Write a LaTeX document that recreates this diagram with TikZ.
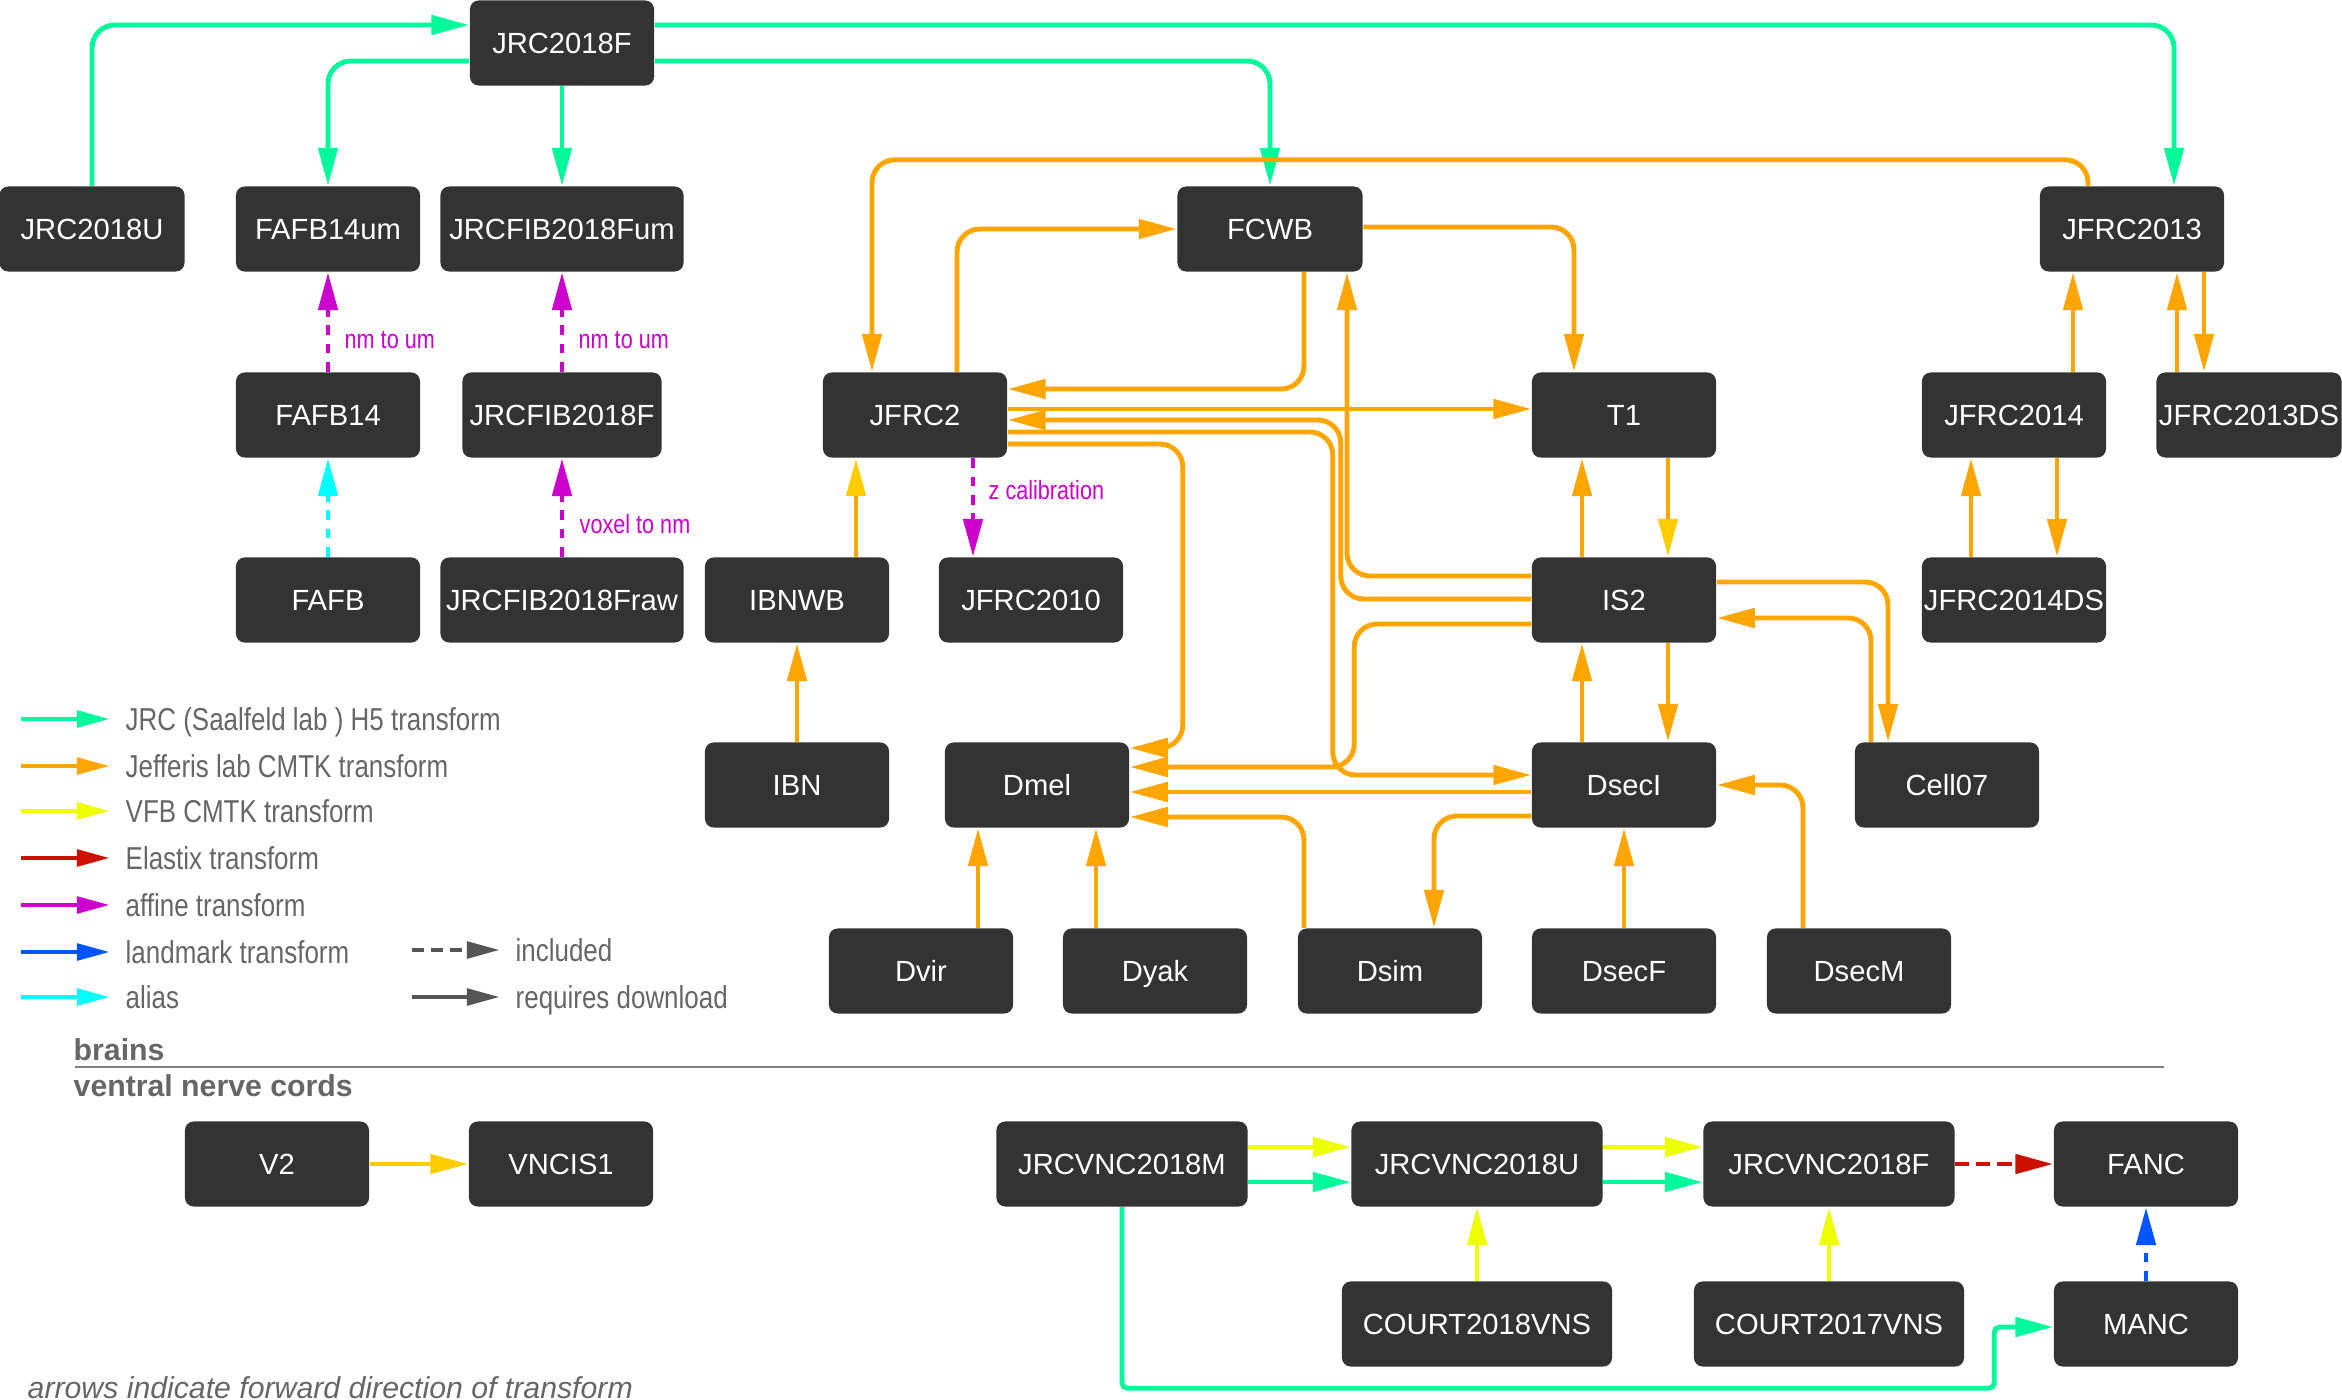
\documentclass[tikz,border=0pt]{standalone}
\usepackage{fontspec}
\setmainfont{Liberation Sans}
\newfontfamily\narrowsans[FakeStretch=0.82]{Liberation Sans}
\usetikzlibrary{arrows.meta,calc}
\definecolor{boxgray}{HTML}{333333}
\definecolor{jrcgreen}{HTML}{00FA9A}
\definecolor{cmtkorange}{HTML}{FFA500}
\definecolor{vfbyellow}{HTML}{EEFF00}
\definecolor{mixgold}{HTML}{FFCC00}
\definecolor{elastixred}{HTML}{CC1100}
\definecolor{affinemag}{HTML}{CC00CC}
\definecolor{landblue}{HTML}{0055FF}
\definecolor{aliascyan}{HTML}{00FFFF}
\definecolor{keygray}{HTML}{555555}
\definecolor{txtgray}{HTML}{666666}
\tikzset{
  brainbox/.style={
    rectangle, fill=boxgray, rounded corners=2.5pt,
    minimum width=#1, minimum height=0.85cm,
    text=white, font=\fontsize{8.3}{10}\selectfont,
    text height=5.95pt, text depth=0pt, inner sep=0pt
  },
  brainbox/.default=1.84cm,
  xform/.style={
    -{Triangle[length=10.8pt, width=5.4pt]}, line width=1.4pt,
    rounded corners=6.5pt, color=#1
  },
  xform/.default=cmtkorange,
  goldtip/.style={
    -{Triangle[length=10.8pt, width=5.4pt, color=mixgold]}
  },
  dashform/.style={
    xform=#1, dash pattern=on 2.8pt off 2.4pt
  },
  keyarrow/.style={
    -{Triangle[length=9.4pt, width=4.6pt]}, line width=1.4pt, color=#1
  },
  keytext/.style={
    font=\narrowsans\fontsize{9}{11}\selectfont, text=txtgray,
    anchor=west, text height=6.44pt, text depth=0pt, inner sep=0pt
  },
  xlabel/.style={
    font=\narrowsans\fontsize{7.5}{9}\selectfont, text=affinemag,
    anchor=base west, inner sep=0pt
  },
  grouptitle/.style={
    font=\bfseries\fontsize{8.6}{10}\selectfont, text=txtgray,
    anchor=base west, inner sep=0pt
  },
}
\begin{document}
\begin{tikzpicture}[x=0.01cm, y=-0.01cm]
  \useasboundingbox (0,0) rectangle (2342,1400);

  % brain templates
  \node[brainbox] (JRC2018F) at (562,43) {JRC2018F};
  \node[brainbox=1.85cm] (JRC2018U) at (92,229) {JRC2018U};
  \node[brainbox] (FAFB14um) at (328,229) {FAFB14um};
  \node[brainbox=2.43cm] (JRCFIB2018Fum) at (562,229) {JRCFIB2018Fum};
  \node[brainbox=1.85cm] (FCWB) at (1270,229) {FCWB};
  \node[brainbox] (JFRC2013) at (2132,229) {JFRC2013};

  \node[brainbox] (FAFB14) at (328,415) {FAFB14};
  \node[brainbox=1.99cm] (JRCFIB2018F) at (562,415) {JRCFIB2018F};
  \node[brainbox] (JFRC2) at (915,415) {JFRC2};
  \node[brainbox] (T1) at (1624,415) {T1};
  \node[brainbox] (JFRC2014) at (2014,415) {JFRC2014};
  \node[brainbox=1.85cm] (JFRC2013DS) at (2249,415) {JFRC2013DS};

  \node[brainbox] (FAFB) at (328,600) {FAFB};
  \node[brainbox=2.43cm] (JRCFIB2018Fraw) at (562,600) {JRCFIB2018Fraw};
  \node[brainbox] (IBNWB) at (797,600) {IBNWB};
  \node[brainbox] (JFRC2010) at (1031,600) {JFRC2010};
  \node[brainbox] (IS2) at (1624,600) {IS2};
  \node[brainbox] (JFRC2014DS) at (2014,600) {JFRC2014DS};

  \node[brainbox] (IBN) at (797,785) {IBN};
  \node[brainbox] (Dmel) at (1037,785) {Dmel};
  \node[brainbox] (DsecI) at (1624,785) {DsecI};
  \node[brainbox] (Cell07) at (1947,785) {Cell07};

  \node[brainbox] (Dvir) at (921,971) {Dvir};
  \node[brainbox] (Dyak) at (1155,971) {Dyak};
  \node[brainbox] (Dsim) at (1390,971) {Dsim};
  \node[brainbox] (DsecF) at (1624,971) {DsecF};
  \node[brainbox] (DsecM) at (1859,971) {DsecM};

  % VNC templates
  \node[brainbox] (V2) at (277,1164) {V2};
  \node[brainbox] (VNCIS1) at (561,1164) {VNCIS1};
  \node[brainbox=2.51cm] (JRCVNC2018M) at (1122,1164) {JRCVNC2018M};
  \node[brainbox=2.51cm] (JRCVNC2018U) at (1477,1164) {JRCVNC2018U};
  \node[brainbox=2.51cm] (JRCVNC2018F) at (1829,1164) {JRCVNC2018F};
  \node[brainbox] (FANC) at (2146,1164) {FANC};
  \node[brainbox=2.70cm] (COURT2018VNS) at (1477,1324) {COURT2018VNS};
  \node[brainbox=2.70cm] (COURT2017VNS) at (1829,1324) {COURT2017VNS};
  \node[brainbox] (MANC) at (2146,1324) {MANC};

  % JRC H5 transforms
  \draw[xform=jrcgreen] (JRC2018U.north) |- ($(JRC2018F.west)+(0,-18)$);
  \draw[xform=jrcgreen] ($(JRC2018F.west)+(0,18)$) -| (FAFB14um.north);
  \draw[xform=jrcgreen] (JRC2018F.south) -- (JRCFIB2018Fum.north);
  \draw[xform=jrcgreen] ($(JRC2018F.east)+(0,18)$) -| (FCWB.north);
  \draw[xform=jrcgreen] ($(JRC2018F.east)+(0,-18)$) -| ($(JFRC2013.north)+(42,0)$);

  % CMTK transforms
  \draw[xform] ($(JFRC2013.north)+(-44,0)$) -- ++(0,-26) -| ($(JFRC2.north)+(-43,0)$);
  \draw[xform] ($(JFRC2.north)+(42,0)$) |- (FCWB.west);
  \draw[xform] ($(FCWB.east)+(0,-2)$) -| ($(T1.north)+(-50,0)$);
  \draw[xform] ($(FCWB.south)+(34,0)$) |- ($(JFRC2.east)+(0,-26)$);
  \draw[xform] ($(IS2.west)+(0,-24)$) -| ($(FCWB.south)+(77,0)$);
  \draw[xform] ($(JFRC2.east)+(0,-6)$) -- ($(T1.west)+(0,-6)$);
  \draw[xform] ($(IS2.west)+(0,-1)$) -| ($(JFRC2.east)+(333,5)$) -- ($(JFRC2.east)+(0,5)$);
  \draw[xform] ($(JFRC2.east)+(0,17)$) -- ++(325,0) |- ($(DsecI.west)+(0,-10)$);
  \draw[xform] ($(JFRC2.east)+(0,29)$) -- ++(175,0) |- ($(Dmel.east)+(0,-37)$);
  \draw[xform] ($(IS2.west)+(0,24)$) -- ++(-177,0) |- ($(Dmel.east)+(0,-18)$);
  \draw[xform] ($(DsecI.west)+(0,7)$) -- ($(Dmel.east)+(0,7)$);
  \draw[xform] ($(Dsim.north)+(-86,0)$) |- ($(Dmel.east)+(0,32)$);
  \draw[xform] ($(DsecI.west)+(0,31)$) -| ($(Dsim.north)+(44,0)$);
  \draw[xform] ($(Dvir.north)+(57,0)$) -- ($(Dmel.south)+(-59,0)$);
  \draw[xform] ($(Dyak.north)+(-59,0)$) -- ($(Dmel.south)+(59,0)$);
  \draw[xform] (IBN.north) -- (IBNWB.south);
  \draw[xform, goldtip] ($(IBNWB.north)+(59,0)$) -- ($(JFRC2.south)+(-59,0)$);
  \draw[xform, goldtip] ($(T1.south)+(44,0)$) -- ($(IS2.north)+(44,0)$);
  \draw[xform] ($(IS2.north)+(-42,0)$) -- ($(T1.south)+(-42,0)$);
  \draw[xform] ($(DsecI.north)+(-42,0)$) -- ($(IS2.south)+(-42,0)$);
  \draw[xform] ($(IS2.south)+(44,0)$) -- ($(DsecI.north)+(44,0)$);
  \draw[xform] (DsecF.north) -- (DsecI.south);
  \draw[xform] ($(DsecM.north)+(-56,0)$) |- (DsecI.east);
  \draw[xform] ($(IS2.east)+(0,-18)$) -| ($(Cell07.north)+(-59,0)$);
  \draw[xform] ($(Cell07.north)+(-76,0)$) |- ($(IS2.east)+(0,18)$);
  \draw[xform] ($(JFRC2014.north)+(59,0)$) -- ($(JFRC2013.south)+(-59,0)$);
  \draw[xform] ($(JFRC2013DS.north)+(-72,0)$) -- ($(JFRC2013.south)+(45,0)$);
  \draw[xform] ($(JFRC2013.south)+(72,0)$) -- ($(JFRC2013DS.north)+(-45,0)$);
  \draw[xform] ($(JFRC2014DS.north)+(-43,0)$) -- ($(JFRC2014.south)+(-43,0)$);
  \draw[xform] ($(JFRC2014.south)+(43,0)$) -- ($(JFRC2014DS.north)+(43,0)$);

  % affine and alias
  \draw[dashform=affinemag] (FAFB14.north) -- (FAFB14um.south);
  \draw[dashform=affinemag] (JRCFIB2018F.north) -- (JRCFIB2018Fum.south);
  \draw[dashform=affinemag] (JRCFIB2018Fraw.north) -- (JRCFIB2018F.south);
  \draw[dashform=aliascyan] (FAFB.north) -- (FAFB14.south);
  \draw[dashform=affinemag] ($(JFRC2.south)+(58,0)$) -- ($(JFRC2010.north)+(-58,0)$);
  \node[xlabel] (nmumA) at (344,348) {nm to um};
  \node[xlabel] (nmumB) at (578,348) {nm to um};
  \node[xlabel] (voxnm) at (579,533) {voxel to nm};
  \node[xlabel] (zcal) at (988,499) {z calibration};

  % VNC transforms
  \draw[xform=mixgold] (V2.east) -- (VNCIS1.west);
  \draw[xform=vfbyellow] ($(JRCVNC2018M.east)+(0,-17)$) -- ($(JRCVNC2018U.west)+(0,-17)$);
  \draw[xform=jrcgreen] ($(JRCVNC2018M.east)+(0,18)$) -- ($(JRCVNC2018U.west)+(0,18)$);
  \draw[xform=vfbyellow] ($(JRCVNC2018U.east)+(0,-17)$) -- ($(JRCVNC2018F.west)+(0,-17)$);
  \draw[xform=jrcgreen] ($(JRCVNC2018U.east)+(0,18)$) -- ($(JRCVNC2018F.west)+(0,18)$);
  \draw[dashform=elastixred, dash pattern=on 4pt off 2pt] (JRCVNC2018F.east) -- (FANC.west);
  \draw[xform=vfbyellow] (COURT2018VNS.north) -- (JRCVNC2018U.south);
  \draw[xform=vfbyellow] (COURT2017VNS.north) -- (JRCVNC2018F.south);
  \draw[dashform=landblue] (MANC.north) -- (FANC.south);
  \draw[xform=jrcgreen, rounded corners=1.5pt] (JRCVNC2018M.south) -- ++(0,181)
    -| ($(MANC.west)+(-59,3)$) -- ($(MANC.west)+(0,3)$);

  % legend
  \node[keytext] (kJRC) at (125,719) {JRC (Saalfeld lab ) H5 transform};
  \node[keytext] (kCMTK) at (125,766) {Jefferis lab CMTK transform};
  \node[keytext] (kVFB) at (125,811) {VFB CMTK transform};
  \node[keytext] (kElastix) at (125,858) {Elastix transform};
  \node[keytext] (kAffine) at (125,905) {affine transform};
  \node[keytext] (kLandmark) at (125,952) {landmark transform};
  \node[keytext] (kAlias) at (125,997) {alias};
  \node[keytext] (kIncluded) at (515,950) {included};
  \node[keytext] (kDownload) at (515,997) {requires download};
  \draw[keyarrow=jrcgreen] ($(kJRC.west)+(-104,0)$) -- ($(kJRC.west)+(-15,0)$);
  \draw[keyarrow=cmtkorange] ($(kCMTK.west)+(-104,0)$) -- ($(kCMTK.west)+(-15,0)$);
  \draw[keyarrow=vfbyellow] ($(kVFB.west)+(-104,0)$) -- ($(kVFB.west)+(-15,0)$);
  \draw[keyarrow=elastixred] ($(kElastix.west)+(-104,0)$) -- ($(kElastix.west)+(-15,0)$);
  \draw[keyarrow=affinemag] ($(kAffine.west)+(-104,0)$) -- ($(kAffine.west)+(-15,0)$);
  \draw[keyarrow=landblue] ($(kLandmark.west)+(-104,0)$) -- ($(kLandmark.west)+(-15,0)$);
  \draw[keyarrow=aliascyan] ($(kAlias.west)+(-104,0)$) -- ($(kAlias.west)+(-15,0)$);
  \draw[keyarrow=keygray, dash pattern=on 3.4pt off 2pt] ($(kIncluded.west)+(-103,0)$) -- ($(kIncluded.west)+(-15,0)$);
  \draw[keyarrow=keygray] ($(kDownload.west)+(-103,0)$) -- ($(kDownload.west)+(-15,0)$);

  % groups
  \node[grouptitle] (brains) at (73,1060) {brains};
  \node[grouptitle] (vnc) at (73,1096) {ventral nerve cords};
  \draw[gray, line width=0.6pt] (75,1067) -- (2164,1067);
  \node[anchor=base west, inner sep=0pt, text=txtgray,
    font=\itshape\fontsize{8.6}{10}\selectfont] (note) at (27,1398)
    {arrows indicate forward direction of transform};
\end{tikzpicture}
\end{document}
